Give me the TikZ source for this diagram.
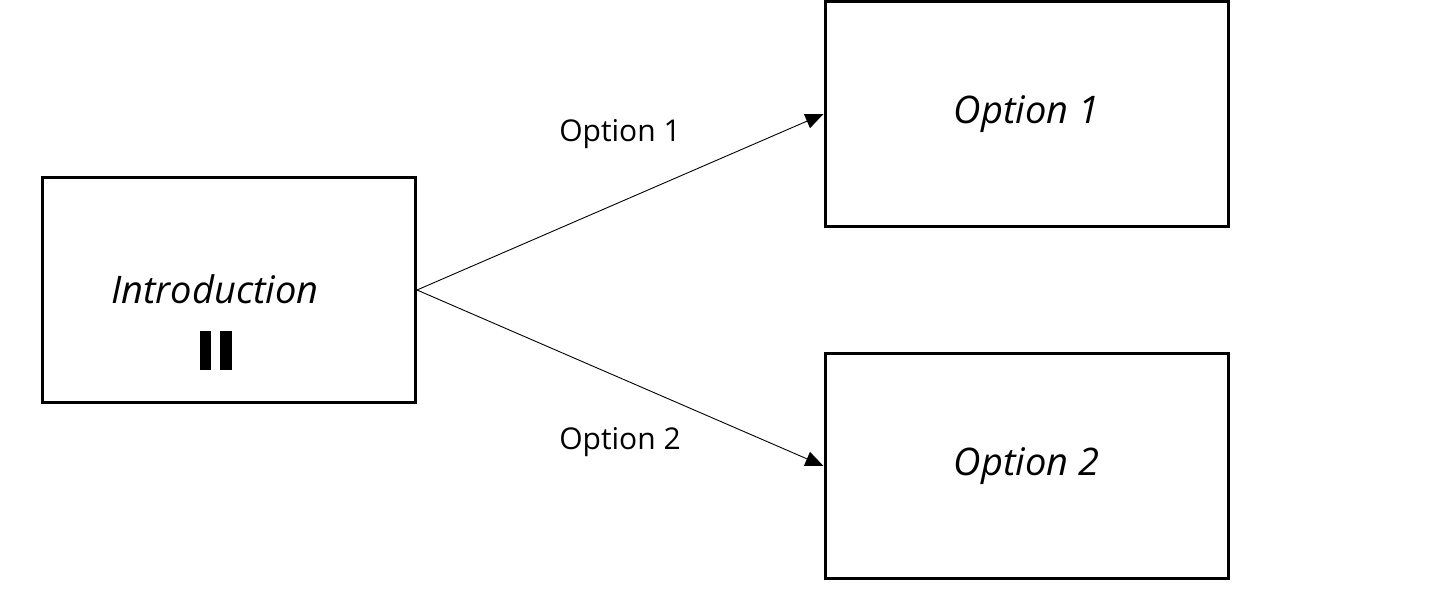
\documentclass[tikz,border=0pt]{standalone}
\usepackage{fontspec}
\setmainfont{Open Sans}
\usetikzlibrary{arrows.meta}
\begin{document}
\begin{tikzpicture}[x=1pt,y=-1pt,
  box/.style={draw=black,line width=3pt,minimum width=373pt,minimum height=225pt,inner sep=0pt,font=\fontsize{38}{44}\selectfont\itshape},
  conn/.style={draw=black,line width=0.9pt,-{Triangle[length=18pt,width=15pt]}},
  elabel/.style={font=\fontsize{30}{34}\selectfont}]
\useasboundingbox (0,0) rectangle (1440,592);
\node[box] (intro) at (229,290) {};
\node[font=\fontsize{38}{44}\selectfont\itshape,inner sep=0pt] (introtxt) at (215,289) {Introduction};
\node[box,minimum width=403pt] (opt1) at (1026.5,114) {Option 1};
\node[box,minimum width=403pt] (opt2) at (1026.5,466) {Option 2};
\fill[black] ([shift={(-29,41)}]intro.center) rectangle ([shift={(-18,80)}]intro.center);
\fill[black] ([shift={(-9,41)}]intro.center) rectangle ([shift={(3,80)}]intro.center);
\draw[conn] (intro.east) -- (opt1.west);
\draw[conn] (intro.east) -- (opt2.west);
\node[elabel] (l1) at (620,134) {Option 1};
\node[elabel] (l2) at (620,442) {Option 2};
\end{tikzpicture}
\end{document}
